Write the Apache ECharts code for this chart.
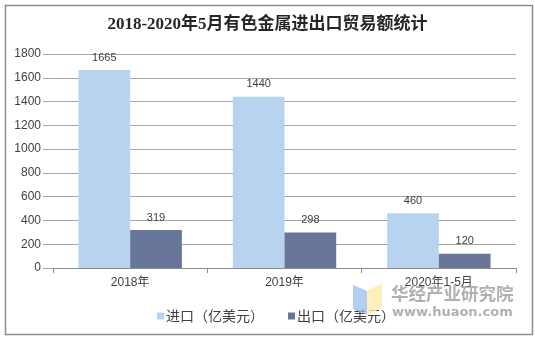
<!DOCTYPE html>
<html>
<head>
<meta charset="utf-8">
<script src="https://cdn.jsdelivr.net/npm/echarts@6/dist/echarts.min.js"></script>
<style>
  html, body { margin: 0; padding: 0; background: #fff; }
  #chart { width: 535px; height: 337px; }
</style>
</head>
<body>
<div id="chart"></div>
<script>
// Years shown on the category axis
const categories = ['2018年', '2019年', '2020年1-5月'];
// Trade values, hundred-million USD
const importValues = [1665, 1440, 460];
const exportValues = [319, 298, 120];
const seriesNames = ['进口（亿美元）', '出口（亿美元）'];
const titleText = '2018-2020年5月有色金属进出口贸易额统计';

const chart = echarts.init(document.getElementById('chart'), null, { renderer: 'canvas' });

const labelStyle = {
  show: true,
  position: 'top',
  distance: 7,
  fontSize: 11,
  color: '#404040',
  fontFamily: 'Liberation Sans, Arial, sans-serif'
};

chart.setOption({
  animation: false,
  backgroundColor: '#ffffff',
  title: {
    text: titleText,
    left: 'center',
    top: 11,
    textStyle: {
      fontSize: 17,
      fontWeight: 'bold',
      color: '#262626',
      fontFamily: 'Liberation Serif, Noto Sans CJK SC, serif'
    }
  },
  grid: { left: 53, right: 19, top: 54, bottom: 69 },
  legend: {
    left: 152,
    top: 304,
    itemWidth: 7,
    itemHeight: 7,
    itemGap: 24,
    icon: 'rect',
    textStyle: { fontSize: 14, color: '#404040', fontFamily: 'Noto Sans CJK SC, sans-serif', padding: [0, 0, 0, -3] },
    data: seriesNames
  },
  xAxis: {
    type: 'category',
    data: categories,
    axisLine: { lineStyle: { color: '#8c8c8c', width: 1 } },
    axisTick: { show: true, length: 5, lineStyle: { color: '#8c8c8c' } },
    axisLabel: { fontSize: 12, color: '#404040', margin: 9, fontFamily: 'Liberation Sans, Noto Sans CJK SC, sans-serif' }
  },
  yAxis: {
    type: 'value',
    min: 0,
    max: 1800,
    interval: 200,
    axisLine: { show: false },
    axisTick: { show: true, length: 10, lineStyle: { color: '#a6a6a6' } },
    splitLine: { lineStyle: { color: '#a6a6a6', width: 1 } },
    axisLabel: {
      fontSize: 12, color: '#404040', margin: 12,
      fontFamily: 'Liberation Sans, Arial, sans-serif',
      formatter: function (v) { return String(v); }
    }
  },
  series: [
    {
      name: seriesNames[0],
      type: 'bar',
      data: importValues,
      barGap: '0%',
      barCategoryGap: '33%',
      itemStyle: { color: '#b8d3ef' },
      label: labelStyle
    },
    {
      name: seriesNames[1],
      type: 'bar',
      data: exportValues,
      itemStyle: { color: '#687699' },
      label: labelStyle
    }
  ],
  graphic: [
    // chart frame
    {
      type: 'rect', left: 3, top: 3, z: -1,
      shape: { width: 527, height: 329 },
      style: { fill: 'none', stroke: '#8c8c8c', lineWidth: 1.5 }
    },
    // brand mark: two folded panels
    {
      type: 'polygon', z: 10,
      shape: { points: [[353, 285], [367, 291], [367, 315], [353, 309]] },
      style: { fill: 'rgba(150, 190, 240, 0.75)' }
    },
    {
      type: 'polygon', z: 10,
      shape: { points: [[367, 291], [382, 283], [382, 308], [367, 315]] },
      style: { fill: 'rgba(253, 238, 170, 0.8)' }
    },
    {
      type: 'text', left: 391, top: 285, z: 10,
      style: {
        text: '华经产业研究院',
        fontSize: 17.5, fontWeight: 'bold',
        fill: 'rgba(150, 150, 150, 0.75)',
        fontFamily: 'Noto Sans CJK SC, sans-serif'
      }
    },
    {
      type: 'text', left: 392, top: 306, z: 10,
      style: {
        text: 'www.huaon.com',
        fontSize: 13, fontWeight: 'bold',
        fill: 'rgba(150, 150, 150, 0.75)',
        fontFamily: 'DejaVu Sans, sans-serif'
      }
    }
  ]
});
</script>
</body>
</html>
